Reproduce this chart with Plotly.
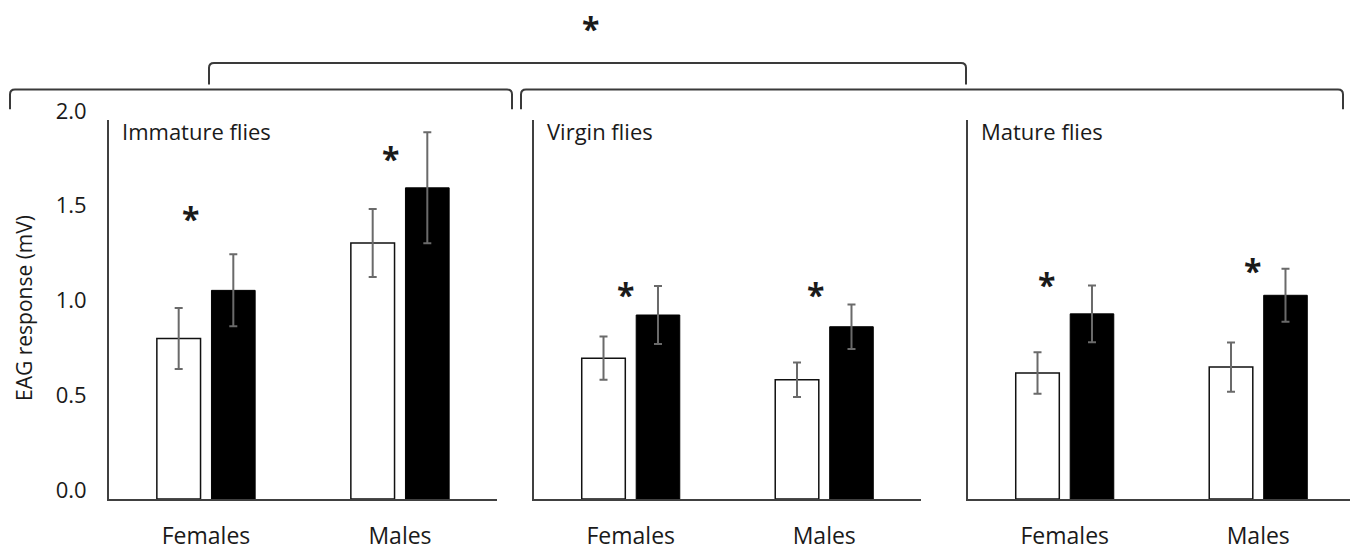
import plotly.graph_objects as go

# The page body has an 8px default margin, so the figure is laid out in
# reference-image pixels and shifted by OFF.
OFF = 8
W, H = 1350, 543
ML, MR, MT, MB = 0, 0, 112, 46

categories = ["Females", "Males"]
panels = ["Immature flies", "Virgin flies", "Mature flies"]

control_vals = [[0.847, 1.351], [0.743, 0.629], [0.665, 0.696]]
control_err = [[0.161, 0.180], [0.114, 0.091], [0.109, 0.130]]
treat_vals = [[1.101, 1.642], [0.971, 0.909], [0.977, 1.075]]
treat_err = [[0.190, 0.293], [0.153, 0.117], [0.150, 0.140]]

star_y = [[1.517, 1.834], [1.117, 1.117], [1.169, 1.242]]
star_dx = [[-16, -10], [-5, -9], [-18, -6]]

y_ticks = [0.0, 0.5, 1.0, 1.5, 2.0]
y_ticklabels = ["0.0", "0.5", "1.0", "1.5", "2.0"]

FONT = "Open Sans"
TXT = "#1a1a1a"
AX = "#404040"

domains_px = [(109, 497), (534, 921), (968, 1355)]


def px_x(px):
    return (px - OFF - ML) / (W - ML - MR)


def px_y(py):
    return (H - MB - (py - OFF)) / (H - MT - MB)


fig = go.Figure()

for i in range(3):
    sfx = "" if i == 0 else str(i + 1)
    fig.add_trace(go.Bar(
        x=categories, y=control_vals[i],
        error_y=dict(type="data", array=control_err[i], color="#6a6a6a",
                     thickness=2, width=4),
        marker=dict(color="white", line=dict(color="#111111", width=1.5)),
        xaxis="x" + sfx, yaxis="y" + sfx, showlegend=False,
        offsetgroup="a",
    ))
    fig.add_trace(go.Bar(
        x=categories, y=treat_vals[i],
        error_y=dict(type="data", array=treat_err[i], color="#6a6a6a",
                     thickness=2, width=4),
        marker=dict(color="black", line=dict(color="black", width=1)),
        xaxis="x" + sfx, yaxis="y" + sfx, showlegend=False,
        offsetgroup="b",
    ))

layout = dict(
    width=W, height=H,
    margin=dict(l=ML, r=MR, t=MT, b=MB),
    paper_bgcolor="white", plot_bgcolor="white",
    barmode="group", bargap=0.437, bargroupgap=0.2,
    font=dict(family=FONT, color=TXT),
)

for i in range(3):
    sfx = "" if i == 0 else str(i + 1)
    d0, d1 = domains_px[i]
    layout["xaxis" + sfx] = dict(
        domain=[px_x(d0), px_x(d1)], anchor="y" + sfx,
        type="category", range=[-0.5, 1.5],
        showline=True, linecolor=AX, linewidth=2,
        showgrid=False, zeroline=False, ticks="",
        tickfont=dict(size=23, color=TXT, family=FONT),
        ticklabelstandoff=15, fixedrange=True,
    )
    layout["yaxis" + sfx] = dict(
        domain=[0, 1], anchor="x" + sfx, range=[0, 2.0],
        showline=True, linecolor=AX, linewidth=2,
        showgrid=False, zeroline=False, ticks="",
        tickvals=y_ticks, ticktext=y_ticklabels,
        showticklabels=(i == 0),
        tickfont=dict(size=22, color=TXT, family=FONT),
        ticklabelstandoff=16, ticklabelshift=-9, fixedrange=True,
    )

fig.update_layout(**layout)

annotations = []
# Panel titles
for i, name in enumerate(panels):
    d0, _ = domains_px[i]
    annotations.append(dict(
        text=name, xref="paper", yref="paper",
        x=px_x(d0 + 11), y=px_y(131), xanchor="left", yanchor="middle",
        showarrow=False, font=dict(size=22, color=TXT, family=FONT),
    ))

# Significance stars
for i in range(3):
    sfx = "" if i == 0 else str(i + 1)
    for j, cat in enumerate(categories):
        annotations.append(dict(
            text="<b>*</b>", xref="x" + sfx, yref="y" + sfx,
            x=cat, y=star_y[i][j], xshift=star_dx[i][j], yshift=-7,
            xanchor="center", yanchor="middle", showarrow=False,
            font=dict(size=32, color=TXT, family=FONT),
        ))

# Top star
annotations.append(dict(
    text="<b>*</b>", xref="paper", yref="paper",
    x=px_x(590), y=px_y(20), yshift=-7, xanchor="center", yanchor="middle",
    showarrow=False, font=dict(size=32, color=TXT, family=FONT),
))

# Y axis title
annotations.append(dict(
    text="EAG response (mV)", xref="paper", yref="paper",
    x=px_x(24), y=px_y(311), xanchor="center", yanchor="middle",
    textangle=-90, showarrow=False,
    font=dict(size=21, color=TXT, family=FONT),
))

fig.update_layout(annotations=annotations)


# Brackets
def bracket(x0, x1, ytop, ybot, r=5):
    p = (f"M {px_x(x0)},{px_y(ybot)} L {px_x(x0)},{px_y(ytop + r)} "
         f"Q {px_x(x0)},{px_y(ytop)} {px_x(x0 + r)},{px_y(ytop)} "
         f"L {px_x(x1 - r)},{px_y(ytop)} "
         f"Q {px_x(x1)},{px_y(ytop)} {px_x(x1)},{px_y(ytop + r)} "
         f"L {px_x(x1)},{px_y(ybot)}")
    return dict(type="path", path=p, xref="paper", yref="paper",
                line=dict(color="#3a3a3a", width=2))


shapes = [
    bracket(10, 512, 89, 109),
    bracket(521, 1343, 89, 109),
    bracket(209, 966, 62, 84),
]
fig.update_layout(shapes=shapes)

fig.write_html("out.html")
